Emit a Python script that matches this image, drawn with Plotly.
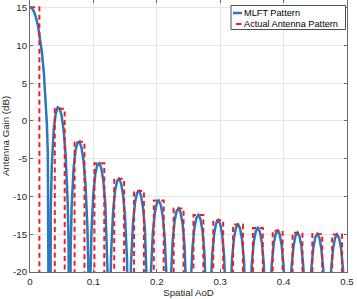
import plotly.graph_objects as go

# ---------------- data ----------------
# nulls of the MLFT pattern (spatial AoD)
null_aod = [0.0, 0.03125, 0.0625, 0.09375, 0.125, 0.15625, 0.1875, 0.21875, 0.25,
            0.28125, 0.3125, 0.34375, 0.375, 0.40625, 0.4375, 0.46875, 0.5]
null_depth_db = -60.0  # nulls fall far below the visible -20 dB floor

# main lobe samples
main_lobe_aod = [0.0, 0.003125, 0.00625, 0.009375, 0.0125, 0.015625, 0.01875, 0.021875,
                 0.025, 0.0265625, 0.028125, 0.0296875, 0.030625]
main_lobe_gain_db = [15.05, 14.91, 14.47, 13.72, 12.63, 11.13, 9.11, 6.37,
                     2.44, -0.33, -4.17, -10.55, -18.75]

# sample AoD offsets from the left null of each side lobe
sample_offset = [0.0015625, 0.003125, 0.00625, 0.009375, 0.0125, 0.015625,
                 0.01875, 0.021875, 0.025, 0.028125, 0.0296875]

# MLFT side lobes (dB), one row per lobe
sidelobe_gain_db = [
    [-11.41, -5.90, -1.07, 1.01, 1.78, 1.62, 0.62, -1.30, -4.57, -10.61, -16.75],
    [-17.18, -11.47, -6.29, -3.89, -2.85, -2.76, -3.54, -5.26, -8.34, -14.22, -20.28],
    [-20.55, -14.78, -9.47, -6.95, -5.80, -5.60, -6.28, -7.91, -10.91, -16.70, -22.72],
    [-22.92, -17.11, -11.73, -9.14, -7.93, -7.67, -8.29, -9.86, -12.81, -18.56, -24.55],
    [-24.71, -18.87, -13.45, -10.82, -9.56, -9.27, -9.85, -11.39, -14.30, -20.02, -25.99],
    [-26.12, -20.27, -14.81, -12.15, -10.87, -10.55, -11.10, -12.62, -15.51, -21.19, -27.15],
    [-27.26, -21.40, -15.92, -13.24, -11.93, -11.59, -12.12, -13.61, -16.48, -22.15, -28.11],
    [-28.20, -22.33, -16.83, -14.13, -12.81, -12.45, -12.97, -14.44, -17.30, -22.95, -28.89],
    [-28.96, -23.09, -17.57, -14.86, -13.53, -13.15, -13.65, -15.11, -17.95, -23.59, -29.53],
    [-29.59, -23.71, -18.18, -15.45, -14.11, -13.72, -14.21, -15.66, -18.49, -24.12, -30.05],
    [-30.09, -24.20, -18.66, -15.93, -14.57, -14.17, -14.65, -16.09, -18.91, -24.52, -30.45],
    [-30.49, -24.60, -19.05, -16.31, -14.94, -14.53, -15.00, -16.43, -19.24, -24.85, -30.77],
    [-30.79, -24.90, -19.34, -16.58, -15.21, -14.79, -15.25, -16.67, -19.47, -25.07, -30.99],
    [-31.00, -25.10, -19.54, -16.77, -15.39, -14.96, -15.41, -16.82, -19.61, -25.20, -31.12],
    [-31.12, -25.22, -19.64, -16.87, -15.48, -15.04, -15.48, -16.88, -19.67, -25.25, -31.16],
]

# Actual antenna pattern: flat steps (left edge, right edge, level)
actual_left_aod = [0.0, 0.0391, 0.0703, 0.1016, 0.1328, 0.1641, 0.1953, 0.2266,
                   0.2578, 0.2891, 0.3203, 0.3516, 0.3828, 0.4141, 0.4453, 0.4766]
actual_right_aod = [0.0148, 0.0547, 0.0859, 0.1172, 0.1484, 0.1797, 0.2109, 0.2422,
                    0.2734, 0.3047, 0.3359, 0.3672, 0.3984, 0.4297, 0.4609, 0.4922]
actual_gain_db = [15.05, 1.62, -2.76, -5.60, -7.67, -9.27, -10.55, -11.59,
                  -12.45, -13.15, -13.72, -14.17, -14.53, -14.79, -14.96, -15.04]
actual_floor_db = -100.0

x_tick_vals = [0, 0.1, 0.2, 0.3, 0.4, 0.5]
x_tick_labels = ["0", "0.1", "0.2", "0.3", "0.4", "0.5"]
y_tick_vals = [-20, -15, -10, -5, 0, 5, 10, 15]
y_tick_labels = ["-20", "-15", "-10", "-5", "0", "5", "10", "15"]

series_names = ["MLFT Pattern", "Actual Antenna Pattern"]

# ---------------- build traces ----------------
blue_x = list(main_lobe_aod)
blue_y = list(main_lobe_gain_db)
for k, lobe in enumerate(sidelobe_gain_db, start=1):
    base = null_aod[k]
    blue_x.append(base)
    blue_y.append(null_depth_db)
    for off, g in zip(sample_offset, lobe):
        blue_x.append(base + off)
        blue_y.append(g)
blue_x.append(null_aod[-1])
blue_y.append(null_depth_db)

red_x, red_y = [], []
for l, r, g in zip(actual_left_aod, actual_right_aod, actual_gain_db):
    red_x += [l, r]
    red_y += [g, actual_floor_db]

BLUE = "#2a78bd"
RED = "#f01c24"
FONT = "Liberation Sans, Arial, sans-serif"
TXT = "#262626"

fig = go.Figure()
fig.add_trace(go.Scatter(x=blue_x, y=blue_y, mode="lines", name=series_names[0],
                         line=dict(color=BLUE, width=2.5), showlegend=False))
fig.add_trace(go.Scatter(x=red_x, y=red_y, mode="lines", name=series_names[1],
                         line=dict(color=RED, width=2, dash="5px,3.5px", shape="hv"),
                         showlegend=False))

L, R, T, B = 30, 10, 0, 27
W, H = 357, 299
pw, ph = W - L - R, H - T - B


def px(xp):
    return (xp - L) / pw


def py(yp):
    return 1 - (yp - T) / ph


# manual legend (MATLAB style)
shapes = [
    dict(type="rect", xref="paper", yref="paper", x0=px(231), x1=px(345.5), y0=py(29.5), y1=py(5.5),
         line=dict(color="#4d4d4d", width=1), fillcolor="white", layer="above"),
    dict(type="line", xref="paper", yref="paper", x0=px(233), x1=px(242), y0=py(13), y1=py(13),
         line=dict(color=BLUE, width=2.5), layer="above"),
    dict(type="line", xref="paper", yref="paper", x0=px(236), x1=px(241.5), y0=py(24), y1=py(24),
         line=dict(color=RED, width=2), layer="above"),
]
annotations = [
    dict(xref="paper", yref="paper", x=px(242.5), y=py(13), text=series_names[0], showarrow=False,
         xanchor="left", yanchor="middle", borderpad=0,
         font=dict(family=FONT, size=9.2, color="#000000")),
    dict(xref="paper", yref="paper", x=px(242.5), y=py(24), text=series_names[1], showarrow=False,
         xanchor="left", yanchor="middle", borderpad=0,
         font=dict(family=FONT, size=9.2, color="#000000")),
]

axis_common = dict(showgrid=True, gridcolor="#e6e6e6", gridwidth=1, zeroline=False,
                   showline=True, linecolor="#6b6b6b", linewidth=1, mirror="ticks",
                   ticks="inside", ticklen=3, tickcolor="#6b6b6b", automargin=False,
                   tickfont=dict(family=FONT, size=9.7, color=TXT))

fig.update_layout(
    width=W, height=H,
    margin=dict(l=L, r=R, t=T, b=B, pad=0),
    paper_bgcolor="white", plot_bgcolor="white",
    xaxis=dict(range=[0, 0.5], tickvals=x_tick_vals, ticktext=x_tick_labels,
               title=dict(text="Spatial AoD", font=dict(family=FONT, size=9.7, color=TXT), standoff=2),
               **axis_common),
    yaxis=dict(range=[-20, 16], tickvals=y_tick_vals, ticktext=y_tick_labels,
               title=dict(text="Antenna Gain (dB)", font=dict(family=FONT, size=9.7, color=TXT), standoff=2),
               **axis_common),
    shapes=shapes, annotations=annotations,
)

fig.write_html("out.html", config={"displayModeBar": False},
               post_script="document.body.style.margin='0';document.body.style.padding='0';")
